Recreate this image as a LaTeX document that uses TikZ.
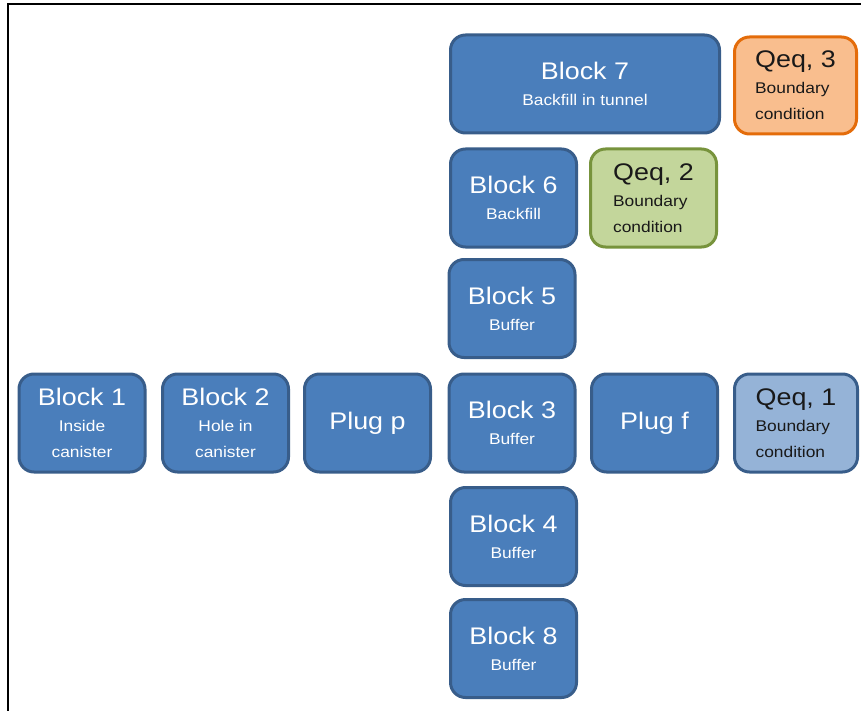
\documentclass[tikz,border=0pt]{standalone}
\usepackage{fontspec}
\setmainfont{Liberation Sans}[FakeStretch=1.12]
\definecolor{blkfill}{HTML}{4A7EBB}
\definecolor{blkline}{HTML}{385D8A}
\definecolor{qonefill}{HTML}{95B3D7}
\definecolor{qtwofill}{HTML}{C3D69B}
\definecolor{qtwoline}{HTML}{77933C}
\definecolor{qthreefill}{HTML}{F9BE8E}
\definecolor{qthreeline}{HTML}{E46C0A}
\newcommand{\subfont}{\fontsize{15.5}{26}\selectfont}
\newcommand{\blktitle}[1]{{\fontsize{24}{26}\selectfont #1}}
\tikzset{
    blk/.style={draw=blkline,fill=blkfill,line width=3pt,rounded corners=15pt,
      minimum width=126pt,minimum height=98pt,inner sep=0pt,
      text=white,align=center,font=\subfont},
    qeq/.style={blk,text=black!90,align=left},
}
\begin{document}
\begin{tikzpicture}[x=1pt,y=-1pt]
    \useasboundingbox (0,0) rectangle (861,711);
    \draw[line width=2pt] (8,711) -- (8,4) -- (861,4);
    \begin{scope}
      \node[blk] (b1) at (82,423) {\blktitle{Block 1}\\Inside\\canister};
      \node[blk] (b2) at (225.5,423) {\blktitle{Block 2}\\Hole in\\canister};
      \node[blk] (plugp) at (367.5,423) {\blktitle{Plug p}};
      \node[blk] (b3) at (512,423) {\blktitle{Block 3}\\Buffer};
      \node[blk] (plugf) at (654.5,423) {\blktitle{Plug f}};
      \node[qeq,fill=qonefill,minimum width=123pt] (q1) at (796,423)
        {\blktitle{Qeq, 1}\\Boundary\\condition};
    \end{scope}
    \begin{scope}
      \node[blk] (b5) at (512,308.5) {\blktitle{Block 5}\\Buffer};
      \node[blk] (b6) at (513.5,198) {\blktitle{Block 6}\\Backfill};
      \node[qeq,fill=qtwofill,draw=qtwoline] (q2) at (653.5,198)
        {\blktitle{Qeq, 2}\\Boundary\\condition};
      \node[blk,minimum width=269pt] (b7) at (585,84)
        {\blktitle{Block 7}\\Backfill in tunnel};
      \node[qeq,fill=qthreefill,draw=qthreeline,minimum width=122pt,minimum height=97pt]
        (q3) at (795.5,85.5) {\blktitle{Qeq, 3}\\Boundary\\condition};
      \node[blk] (b4) at (513.5,536.5) {\blktitle{Block 4}\\Buffer};
      \node[blk] (b8) at (513.5,648.5) {\blktitle{Block 8}\\Buffer};
    \end{scope}
\end{tikzpicture}
\end{document}
